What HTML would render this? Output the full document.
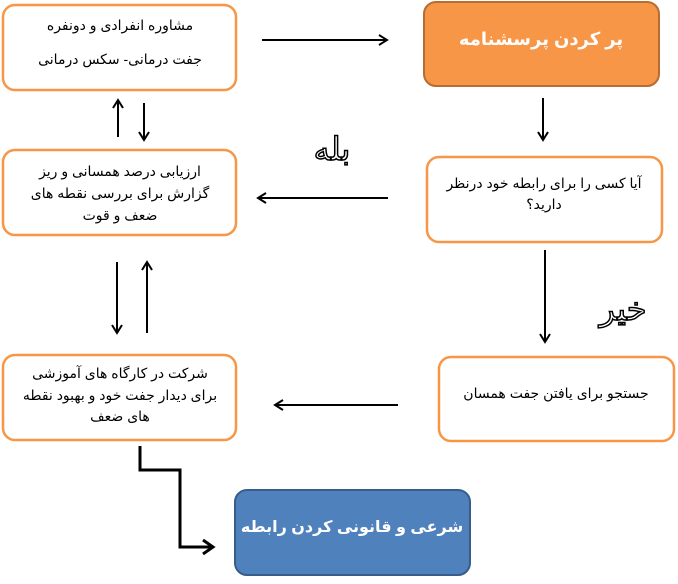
<!DOCTYPE html>
<html><head><meta charset="utf-8"><style>
html,body{margin:0;padding:0;background:#fff;}
svg text{font-family:"Liberation Sans","DejaVu Sans",sans-serif;}
</style></head><body>
<svg width="678" height="579" viewBox="0 0 678 579" xmlns="http://www.w3.org/2000/svg">
<defs>
<marker id="a" markerWidth="12" markerHeight="12" refX="9" refY="6" orient="auto" markerUnits="userSpaceOnUse">
<path d="M1,1 L9,6 L1,11" fill="none" stroke="#000" stroke-width="2"/>
</marker>
<marker id="b" markerWidth="16" markerHeight="16" refX="12" refY="8" orient="auto" markerUnits="userSpaceOnUse">
<path d="M2,1 L12,8 L2,15" fill="none" stroke="#000" stroke-width="3"/>
</marker>
</defs>
<g fill="#fff" stroke="#f79646" stroke-width="2.5">
<rect x="3" y="5" width="233" height="85" rx="12"/>
<rect x="3" y="150" width="233" height="85" rx="12"/>
<rect x="3" y="355" width="233" height="85" rx="12"/>
<rect x="427" y="157" width="235" height="85" rx="12"/>
<rect x="439" y="357" width="235" height="84" rx="12"/>
</g>
<rect x="424" y="2" width="235" height="84" rx="12" fill="#f79646" stroke="#b66d31" stroke-width="2"/>
<rect x="235" y="490" width="235" height="85" rx="12" fill="#4f81bd" stroke="#385d8a" stroke-width="2"/>
<g font-size="14" fill="#000" text-anchor="middle" direction="rtl">
<text x="120" y="30">مشاوره انفرادی و دونفره</text>
<text x="120" y="64">جفت درمانی- سکس درمانی</text>
<text x="120" y="176">ارزیابی درصد همسانی و ریز</text>
<text x="120" y="198">گزارش برای بررسی نقطه های</text>
<text x="120" y="220">ضعف و قوت</text>
<text x="120" y="378">شرکت در کارگاه های آموزشی</text>
<text x="120" y="400">برای دیدار جفت خود و بهبود نقطه</text>
<text x="120" y="421">های ضعف</text>
<text x="544" y="188">آیا کسی را برای رابطه خود درنظر</text>
<text x="544" y="209">دارید؟</text>
<text x="556" y="398">جستجو برای یافتن جفت همسان</text>
</g>
<text x="541" y="45" font-size="18" font-weight="bold" fill="#fff" text-anchor="middle" direction="rtl">پر کردن پرسشنامه</text>
<text x="352" y="532" font-size="16" font-weight="bold" fill="#fff" text-anchor="middle" direction="rtl">شرعی و قانونی کردن رابطه</text>
<text x="332" y="160" font-size="32" fill="#fff" stroke="#000" stroke-width="1.5" text-anchor="middle">بله</text>
<text x="623" y="320" font-size="32" fill="#fff" stroke="#000" stroke-width="1.5" text-anchor="middle">خیر</text>
<g stroke="#000" stroke-width="2" fill="none" marker-end="url(#a)">
<line x1="262" y1="40" x2="387" y2="40"/>
<line x1="543" y1="98" x2="543" y2="140"/>
<line x1="388" y1="198" x2="258" y2="198"/>
<line x1="545" y1="250" x2="545" y2="342"/>
<line x1="398" y1="405" x2="275" y2="405"/>
<line x1="118" y1="137" x2="118" y2="100"/>
<line x1="144" y1="103" x2="144" y2="140"/>
<line x1="117" y1="262" x2="117" y2="333"/>
<line x1="147" y1="333" x2="147" y2="262"/>
</g>
<polyline points="140,446 140,470 180,470 180,547 213,547" stroke="#000" stroke-width="3" fill="none" marker-end="url(#b)"/>
</svg>
</body></html>
